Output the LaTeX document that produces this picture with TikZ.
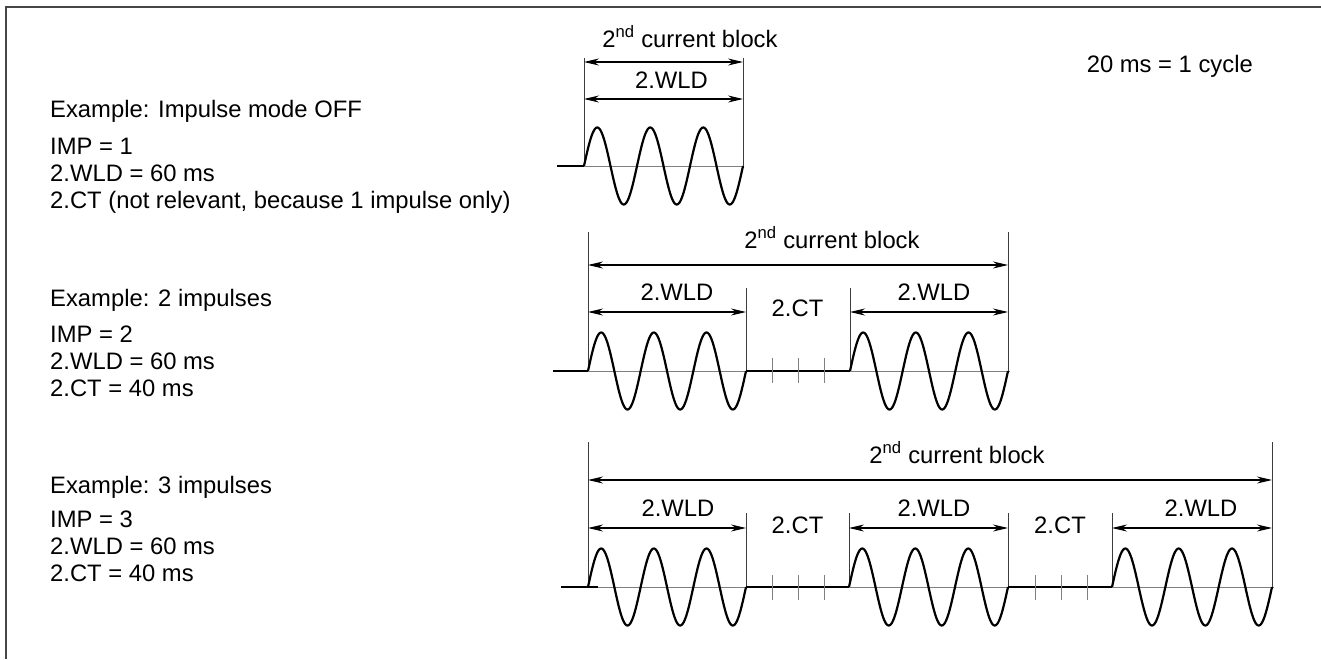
\documentclass[tikz,border=0pt]{standalone}
\usepackage{fontspec}
\setmainfont{Liberation Sans}
\usepackage{xcolor}
\usepackage{tikz}
\usetikzlibrary{arrows.meta}
\definecolor{framegray}{RGB}{70,70,70}
\definecolor{dimgray}{RGB}{60,60,60}

% one current pulse: three full cycles between #1 and #2 on baseline #3
\newcommand{\burst}[3]{%
  \draw[wave] plot[domain=0:1080, samples=181, smooth] ({#1+\x/1080*(#2-#1)}, {#3-38.5*sin(\x)});}

\begin{document}
\begin{tikzpicture}[x=1pt, y=-1pt,
    wave/.style={line width=2.2pt, line join=round},
    hold/.style={line width=2.2pt},
    axis/.style={line width=0.9pt, gray},
    guide/.style={line width=1pt, dimgray},
    dim/.style={{Stealth[length=15pt, width=7pt]}-{Stealth[length=15pt, width=7pt]}, line width=1.1pt},
    lbl/.style={font=\fontsize{23.8}{27}\selectfont, inner sep=0pt}]
    \useasboundingbox (0,0) rectangle (1321,659);

    % Frame
    \draw[line width=1.4pt, framegray] (1321,7) -- (6,7) -- (6,659);

    % Time base
    \node[lbl, anchor=base east] (cycle) at (1253,72) {20 ms = 1 cycle};

    % Example 1: impulse mode off
    \node[lbl, anchor=base west] (ex1) at (50,117) {Example: Impulse mode OFF};
    \node[lbl, anchor=north west, align=left] (par1) at (50,138) {IMP = 1\\2.WLD = 60 ms\\2.CT (not relevant, because 1 impulse only)};

    \coordinate (s1) at (584,166);
    \coordinate (e1) at (743,166);
    \draw[guide] (584,58) -- (s1);
    \draw[guide] (743,58) -- (e1);
    \draw[dim] (584,62) -- (743,62);
    \draw[dim] (584,99) -- (743,99);
    \node[lbl, anchor=base] (blk1) at (690,47) {2\textsuperscript{nd} current block};
    \node[lbl, anchor=base] (wld1) at (671.5,88) {2.WLD};
    \draw[axis] (s1) -- (e1);
    \draw[hold] (557,166) -- (s1);
    \burst{584}{743}{166}

    % Example 2: two impulses
    \node[lbl, anchor=base west] (ex2) at (50,306) {Example: 2 impulses};
    \node[lbl, anchor=north west, align=left] (par2) at (50,326) {IMP = 2\\2.WLD = 60 ms\\2.CT = 40 ms};

    \coordinate (s2) at (588,371);
    \coordinate (p2) at (746,371);
    \coordinate (q2) at (850,371);
    \coordinate (e2) at (1008,371);
    \draw[guide] (588,232) -- (s2);
    \draw[guide] (1008,232) -- (e2);
    \draw[guide] (746,288) -- (p2);
    \draw[guide] (850,288) -- (q2);
    \draw[dim] (588,265) -- (1008,265);
    \draw[dim] (588,312) -- (746,312);
    \draw[dim] (850,312) -- (1008,312);
    \node[lbl, anchor=base] (blk2) at (832,248) {2\textsuperscript{nd} current block};
    \node[lbl, anchor=base] (wld2a) at (677,300) {2.WLD};
    \node[lbl, anchor=base] (ct2) at (797.5,316) {2.CT};
    \node[lbl, anchor=base] (wld2b) at (934,300) {2.WLD};
    \draw[axis] (s2) -- (1010,371);
    \draw[hold] (553,371) -- (s2);
    \draw[hold] (p2) -- (q2);
    \foreach \t in {772,798,824} \draw[axis] (\t,358) -- (\t,383);
    \burst{588}{746}{371}
    \burst{850}{1008}{371}

    % Example 3: three impulses
    \node[lbl, anchor=base west] (ex3) at (50,493) {Example: 3 impulses};
    \node[lbl, anchor=north west, align=left] (par3) at (50,511) {IMP = 3\\2.WLD = 60 ms\\2.CT = 40 ms};

    \coordinate (s3) at (588,587);
    \coordinate (p3) at (746,587);
    \coordinate (q3) at (849,587);
    \coordinate (r3) at (1008,587);
    \coordinate (t3) at (1112,587);
    \coordinate (e3) at (1272,587);
    \draw[guide] (588,442) -- (s3);
    \draw[guide] (1272,442) -- (e3);
    \foreach \c/\xx in {p3/746, q3/849, r3/1008, t3/1112} \draw[guide] (\xx,513) -- (\c);
    \draw[dim] (588,480) -- (1272,480);
    \draw[dim] (588,528) -- (746,528);
    \draw[dim] (849,528) -- (1008,528);
    \draw[dim] (1112,528) -- (1272,528);
    \node[lbl, anchor=base] (blk3) at (957,463) {2\textsuperscript{nd} current block};
    \node[lbl, anchor=base] (wld3a) at (678,516) {2.WLD};
    \node[lbl, anchor=base] (ct3a) at (797.5,533) {2.CT};
    \node[lbl, anchor=base] (wld3b) at (934,516) {2.WLD};
    \node[lbl, anchor=base] (ct3b) at (1060,533) {2.CT};
    \node[lbl, anchor=base] (wld3c) at (1201,516) {2.WLD};
    \draw[axis] (s3) -- (1274,587);
    \draw[hold] (561,587) -- (598,587);
    \draw[hold] (p3) -- (q3);
    \draw[hold] (r3) -- (t3);
    \foreach \t in {772,798,824,1035,1061,1087} \draw[axis] (\t,575) -- (\t,600);
    \burst{588}{746}{587}
    \burst{849}{1008}{587}
    \burst{1112}{1272}{587}
\end{tikzpicture}
\end{document}
